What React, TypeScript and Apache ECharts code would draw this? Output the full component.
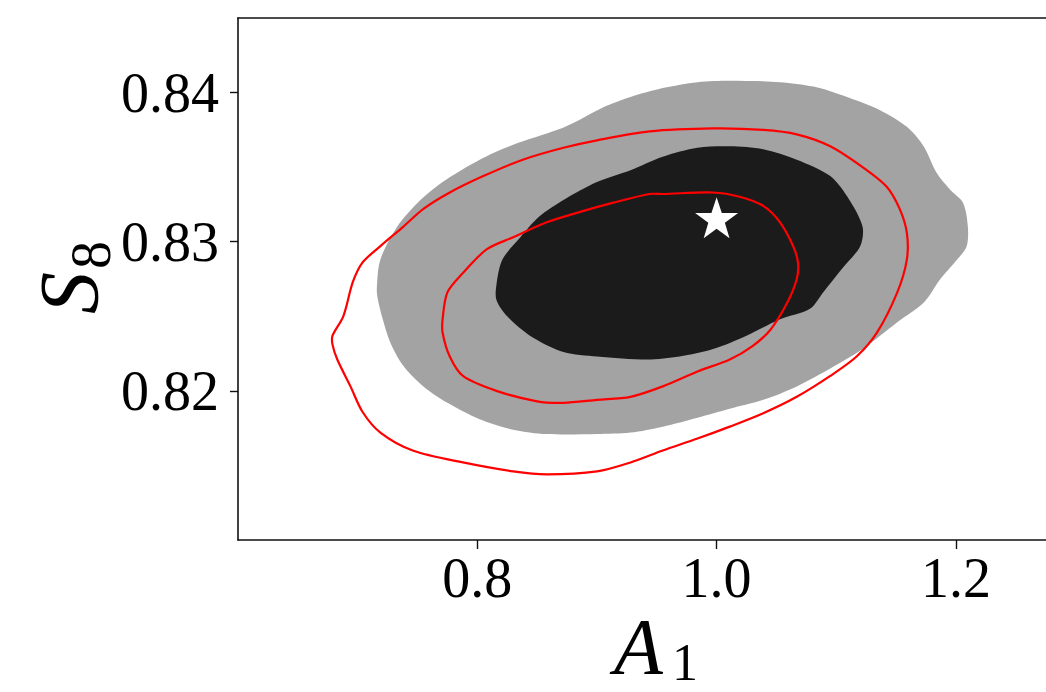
import React, { useEffect, useRef } from "react";
import * as echarts from "echarts";

// Axis ticks
const xTicks = [0.8, 1.0, 1.2];
const yTicks = [0.82, 0.83, 0.84];

// Filled contours (A1, S8)
const outerFill: number[][] = [
  [0.716, 0.8268], [0.719, 0.8288], [0.733, 0.831], [0.75, 0.8326], [0.771, 0.834],
  [0.802, 0.8355], [0.83, 0.8365], [0.867, 0.8375], [0.886, 0.8382], [0.905, 0.839],
  [0.928, 0.8397], [0.955, 0.8403], [0.984, 0.8407], [1.011, 0.8408], [1.053, 0.8407],
  [1.081, 0.8404], [1.109, 0.8397], [1.137, 0.8388], [1.159, 0.8377], [1.173, 0.8364],
  [1.184, 0.8346], [1.195, 0.8335], [1.206, 0.8326], [1.21, 0.831], [1.209, 0.8297],
  [1.201, 0.8288], [1.187, 0.8275], [1.173, 0.8259], [1.151, 0.8246], [1.122, 0.8228],
  [1.095, 0.8215], [1.067, 0.8203], [1.039, 0.8194], [1.011, 0.8188], [0.984, 0.8182],
  [0.955, 0.8176], [0.928, 0.8172], [0.9, 0.8171], [0.858, 0.8171], [0.83, 0.8174],
  [0.802, 0.8181], [0.775, 0.8192], [0.755, 0.8203], [0.738, 0.8217], [0.727, 0.8233],
  [0.721, 0.8248], [0.717, 0.8261],
];

const innerFill: number[][] = [
  [0.816, 0.8271], [0.821, 0.8288], [0.836, 0.8303], [0.852, 0.8317], [0.872, 0.8328],
  [0.9, 0.834], [0.928, 0.8348], [0.955, 0.8357], [0.984, 0.8363], [1.011, 0.8364],
  [1.039, 0.8362], [1.067, 0.8355], [1.095, 0.8344], [1.111, 0.8328], [1.122, 0.831],
  [1.12, 0.8297], [1.106, 0.8283], [1.089, 0.8266], [1.078, 0.8255], [1.053, 0.8248],
  [1.025, 0.8237], [0.997, 0.8228], [0.969, 0.8223], [0.942, 0.8221], [0.9, 0.8223],
  [0.872, 0.8226], [0.844, 0.8237], [0.825, 0.825], [0.816, 0.8261],
];

// Red contour lines
const redOuter: number[][] = [
  [0.679, 0.8231], [0.679, 0.8237], [0.688, 0.825], [0.696, 0.8273], [0.704, 0.8286],
  [0.719, 0.8297], [0.738, 0.831], [0.755, 0.8322], [0.777, 0.8333], [0.805, 0.8344],
  [0.838, 0.8355], [0.872, 0.8363], [0.9, 0.8368], [0.944, 0.8374], [0.997, 0.8376],
  [1.039, 0.8375], [1.067, 0.8372], [1.095, 0.8364], [1.122, 0.835], [1.142, 0.8337],
  [1.153, 0.8322], [1.159, 0.8306], [1.159, 0.8288], [1.151, 0.8266], [1.134, 0.8239],
  [1.117, 0.8223], [1.095, 0.821], [1.067, 0.8196], [1.039, 0.8185], [1.011, 0.8176],
  [0.984, 0.8168], [0.955, 0.816], [0.928, 0.8152], [0.9, 0.8146], [0.858, 0.8144],
  [0.83, 0.8146], [0.788, 0.8152], [0.746, 0.816], [0.719, 0.8172], [0.704, 0.8186],
  [0.694, 0.8203], [0.683, 0.8221],
];

const redInner: number[][] = [
  [0.771, 0.8248], [0.775, 0.8266], [0.788, 0.8279], [0.808, 0.8295], [0.83, 0.8303],
  [0.858, 0.8313], [0.886, 0.832], [0.913, 0.8326], [0.944, 0.8332], [0.955, 0.8332],
  [0.997, 0.8333], [1.02, 0.833], [1.039, 0.8324], [1.053, 0.8313], [1.064, 0.8297],
  [1.068, 0.8286], [1.067, 0.8275], [1.059, 0.8259], [1.045, 0.8241], [1.03, 0.823],
  [1.011, 0.8221], [0.984, 0.8213], [0.955, 0.8203], [0.928, 0.8196], [0.9, 0.8194],
  [0.872, 0.8192], [0.85, 0.8193], [0.816, 0.82], [0.788, 0.821], [0.777, 0.8223],
  [0.771, 0.8239],
];

// Fiducial point
const starPoint: number[][] = [[1.0, 0.8316]];

const STAR =
  "path://M50,0 L61.8,35.1 L98.9,35.1 L68.8,57.4 L79.4,92.7 L50,71 L20.6,92.7 L31.2,57.4 L1.1,35.1 L38.2,35.1 Z";

function polySeries(points: number[][], fill: string, stroke: string, lineWidth: number, z: number) {
  return {
    type: "custom",
    coordinateSystem: "cartesian2d",
    xAxisIndex: 0,
    yAxisIndex: 0,
    clip: true,
    z,
    data: points,
    encode: { x: 0, y: 1 },
    renderItem: (params: any, api: any) => {
      if (params.dataIndex !== 0) return null;
      const pts = points.map((p) => api.coord(p));
      return {
        type: "polygon",
        shape: { points: pts, smooth: 0.3 },
        style: { fill, stroke, lineWidth },
      };
    },
  };
}

const serif = "'Liberation Serif', 'DejaVu Serif', serif";
const X_MIN = 0.6;
const X_MAX = 1.2753;
const Y_MIN = 0.81;
const Y_MAX = 0.845;

export default function App() {
  const ref = useRef<HTMLDivElement>(null);
  useEffect(() => {
    document.body.style.margin = "0";
    const chart = echarts.init(ref.current!, null, { renderer: "svg" });
    const axisLineStyle = { color: "#111", width: 1.6 };
    chart.setOption({
      animation: false,
      backgroundColor: "#ffffff",
      grid: {
        left: 238,
        top: 18,
        right: 0,
        height: 522,
        show: false,
      },
      xAxis: [
        {
          type: "value",
          min: X_MIN,
          max: X_MAX,
          splitLine: { show: false },
          axisLine: { show: true, lineStyle: axisLineStyle },
          axisTick: { show: true, length: 9, customValues: xTicks, lineStyle: { color: "#111", width: 1.4 } },
          axisLabel: {
            customValues: xTicks,
            formatter: (v: number) => v.toFixed(1),
            fontFamily: serif,
            fontSize: 56,
            color: "#000",
            margin: 10,
          },
        },
        {
          type: "value",
          position: "top",
          min: X_MIN,
          max: X_MAX,
          splitLine: { show: false },
          axisLine: { show: true, lineStyle: axisLineStyle },
          axisTick: { show: false },
          axisLabel: { show: false },
        },
      ],
      yAxis: {
        type: "value",
        min: Y_MIN,
        max: Y_MAX,
        splitLine: { show: false },
        axisLine: { show: true, lineStyle: axisLineStyle },
        axisTick: { show: true, length: 8, customValues: yTicks, lineStyle: { color: "#111", width: 1.4 } },
        axisLabel: {
          customValues: yTicks,
          formatter: (v: number) => v.toFixed(2),
          fontFamily: serif,
          fontSize: 56,
          color: "#000",
          margin: 19,
        },
      },
      graphic: [
        {
          type: "group",
          x: 0,
          y: 0,
          children: [
            {
              type: "text",
              x: 614,
              y: 647,
              style: { text: "A", font: `italic 80px ${serif}`, fill: "#000", verticalAlign: "middle", align: "left" },
            },
            {
              type: "text",
              x: 672,
              y: 662,
              style: { text: "1", font: `52px ${serif}`, fill: "#000", verticalAlign: "middle", align: "left" },
            },
          ],
        },
        {
          type: "group",
          x: 0,
          y: 312,
          rotation: Math.PI / 2,
          children: [
            {
              type: "text",
              x: -2,
              y: 69,
              style: { text: "S", font: `italic 84px ${serif}`, fill: "#000", verticalAlign: "middle", align: "left" },
            },
            {
              type: "text",
              x: 43,
              y: 91,
              style: { text: "8", font: `56px ${serif}`, fill: "#000", verticalAlign: "middle", align: "left" },
            },
          ],
        },
      ],
      series: [
        polySeries(outerFill, "#a3a3a3", "none", 0, 1),
        polySeries(innerFill, "#1b1b1b", "none", 0, 2),
        polySeries(redOuter, "none", "#ff0000", 2.2, 3),
        polySeries(redInner, "none", "#ff0000", 2.2, 4),
        {
          type: "scatter",
          z: 5,
          data: starPoint,
          symbol: STAR,
          symbolSize: [43, 41],
          itemStyle: { color: "#ffffff", opacity: 1 },
        },
      ],
    });
    return () => chart.dispose();
  }, []);
  return <div ref={ref} style={{ width: 1046, height: 692, position: "absolute", left: 0, top: 0 }} />;
}
